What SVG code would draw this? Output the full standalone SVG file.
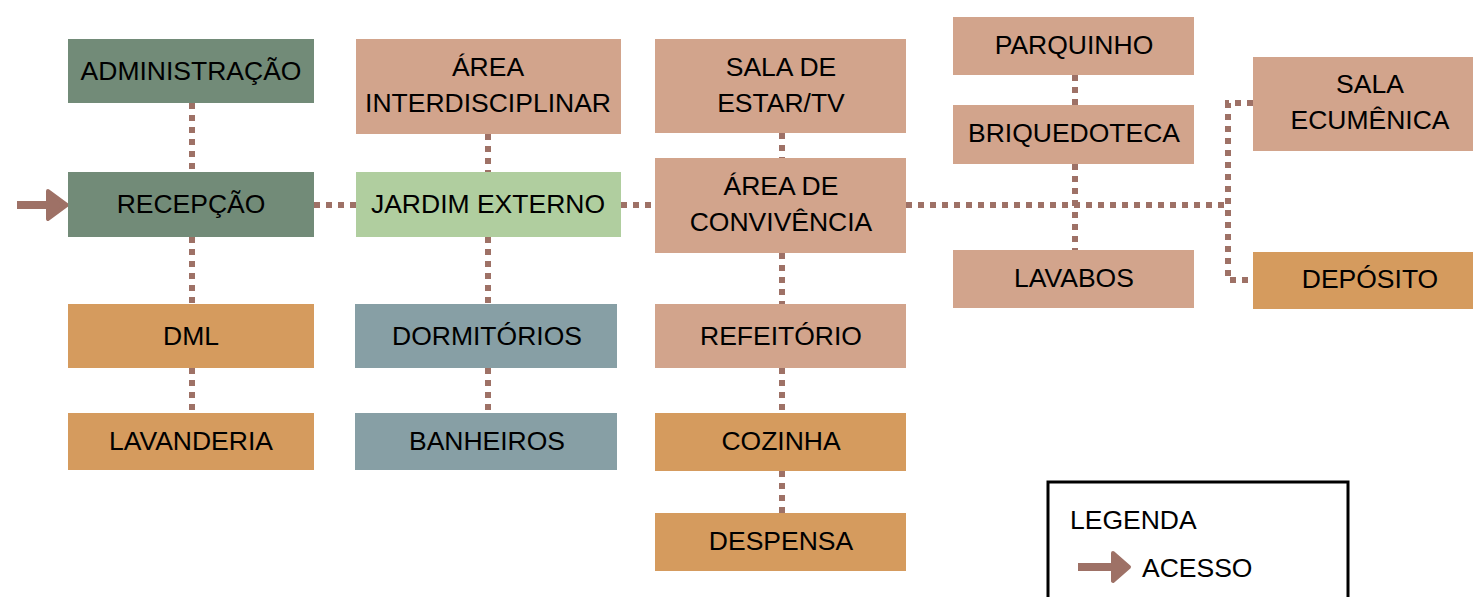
<svg xmlns="http://www.w3.org/2000/svg" width="1473" height="597" viewBox="0 0 1473 597">
<style>
.t{font-family:"Liberation Sans",Arial,sans-serif;font-size:26.5px;fill:#000;text-anchor:middle}
.lt{font-family:"Liberation Sans",Arial,sans-serif;font-size:26.5px;fill:#000}
.dg{fill:#728B78}.sa{fill:#D2A48C}.or{fill:#D59B5E}.bg{fill:#879FA5}.lg{fill:#B0CE9F}
.c{stroke:#9E7166;stroke-width:6;stroke-dasharray:6 6;fill:none}
.ar{fill:#9E7166;stroke:#9E7166;stroke-linejoin:round}
</style>
<rect width="1473" height="597" fill="#fff"/>
<g id="connectors">
<path class="c" d="M192 103V172M192 237V304M192 368V413"/>
<path class="c" d="M488 134V172M488 237V304M488 368V413"/>
<path class="c" d="M782 133V158M782 253V304M782 368V413M782 471V513"/>
<path class="c" d="M1075 75V105M1075 164V250"/>
<path class="c" d="M314 205H356M621 205H655M906 205H1228"/>
<path class="c" d="M1253 103H1228V280H1253"/>
</g>
<g id="entry-arrow">
<rect x="17" y="201" width="32" height="8" fill="#9E7166"/>
<path class="ar" stroke-width="4" d="M48 191L67 205L48 219Z"/>
</g>
<g id="administracao"><rect class="dg" x="68" y="39" width="246" height="64"/><text class="t" x="191" y="80">ADMINISTRAÇÃO</text></g>
<g id="recepcao"><rect class="dg" x="68" y="172" width="246" height="65"/><text class="t" x="191" y="213">RECEPÇÃO</text></g>
<g id="dml"><rect class="or" x="68" y="304" width="246" height="64"/><text class="t" x="191" y="345">DML</text></g>
<g id="lavanderia"><rect class="or" x="68" y="413" width="246" height="57"/><text class="t" x="191" y="450">LAVANDERIA</text></g>
<g id="area-interdisciplinar"><rect class="sa" x="356" y="39" width="265" height="95"/><text class="t" x="488" y="76">ÁREA</text><text class="t" x="488" y="112">INTERDISCIPLINAR</text></g>
<g id="jardim-externo"><rect class="lg" x="356" y="172" width="265" height="65"/><text class="t" x="488" y="213">JARDIM EXTERNO</text></g>
<g id="dormitorios"><rect class="bg" x="355" y="304" width="262" height="64"/><text class="t" x="487" y="345">DORMITÓRIOS</text></g>
<g id="banheiros"><rect class="bg" x="355" y="413" width="262" height="57"/><text class="t" x="487" y="450">BANHEIROS</text></g>
<g id="sala-estar"><rect class="sa" x="655" y="39" width="251" height="94"/><text class="t" x="781" y="76">SALA DE</text><text class="t" x="781" y="112">ESTAR/TV</text></g>
<g id="area-convivencia"><rect class="sa" x="655" y="158" width="251" height="95"/><text class="t" x="781" y="195">ÁREA DE</text><text class="t" x="781" y="231">CONVIVÊNCIA</text></g>
<g id="refeitorio"><rect class="sa" x="655" y="304" width="251" height="64"/><text class="t" x="781" y="345">REFEITÓRIO</text></g>
<g id="cozinha"><rect class="or" x="655" y="413" width="251" height="58"/><text class="t" x="781" y="450">COZINHA</text></g>
<g id="despensa"><rect class="or" x="655" y="513" width="251" height="58"/><text class="t" x="781" y="550">DESPENSA</text></g>
<g id="parquinho"><rect class="sa" x="953" y="17" width="241" height="58"/><text class="t" x="1074" y="54">PARQUINHO</text></g>
<g id="briquedoteca"><rect class="sa" x="953" y="105" width="241" height="59"/><text class="t" x="1074" y="142">BRIQUEDOTECA</text></g>
<g id="lavabos"><rect class="sa" x="953" y="250" width="241" height="58"/><text class="t" x="1074" y="287">LAVABOS</text></g>
<g id="sala-ecumenica"><rect class="sa" x="1253" y="57" width="234" height="94"/><text class="t" x="1370" y="93">SALA</text><text class="t" x="1370" y="129">ECUMÊNICA</text></g>
<g id="deposito"><rect class="or" x="1253" y="252" width="234" height="57"/><text class="t" x="1370" y="288">DEPÓSITO</text></g>
<g id="legenda">
<rect x="1048" y="482" width="300" height="130" fill="none" stroke="#000" stroke-width="3"/>
<text class="lt" x="1070" y="529">LEGENDA</text>
<rect x="1078" y="563" width="36" height="8" fill="#9E7166"/>
<path class="ar" stroke-width="4" d="M1113 553L1129 567L1113 581Z"/>
<text class="lt" x="1142" y="577">ACESSO</text>
</g>
</svg>
